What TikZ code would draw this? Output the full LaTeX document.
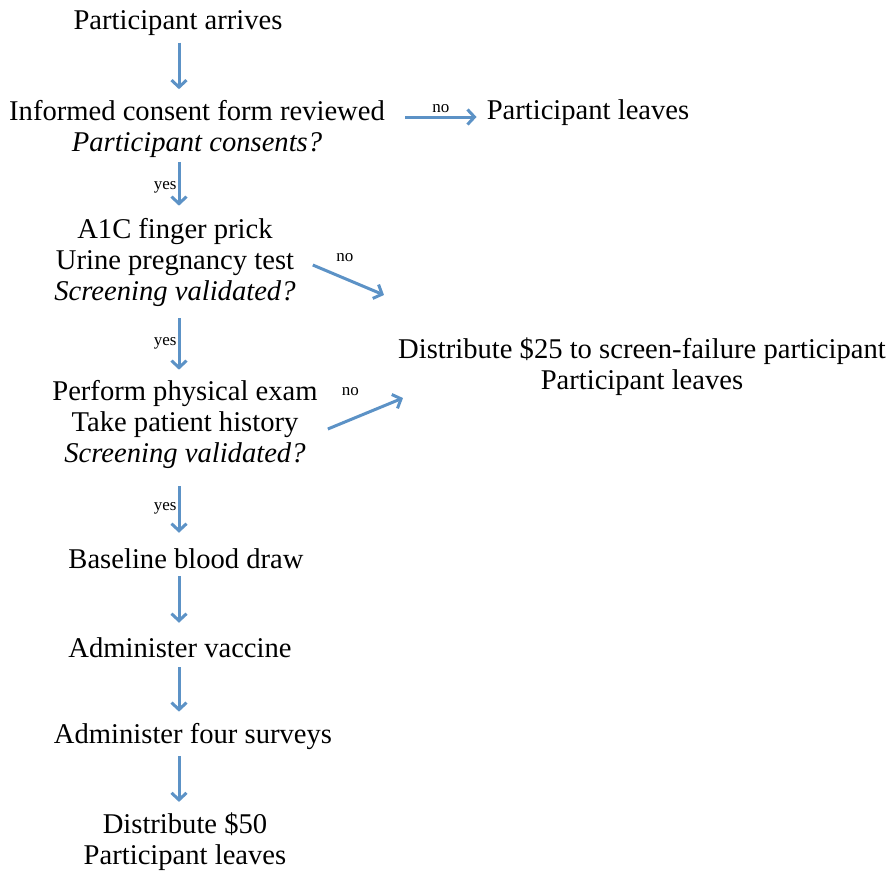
\documentclass[tikz,border=0pt]{standalone}
\usepackage{fontspec}
\setmainfont{Liberation Serif}
\usetikzlibrary{arrows.meta}
\definecolor{flowblue}{RGB}{92,146,198}

\begin{document}
\begin{tikzpicture}[
    x=1pt, y=-1pt,
    stepbox/.style={font=\fontsize{28.6}{31}\selectfont, align=center, inner sep=0pt},
    flow/.style={-{Straight Barb[length=7pt, width=15pt]}, line width=3pt, flowblue},
    anslbl/.style={font=\fontsize{17}{19}\selectfont, inner sep=1pt, text=black},
]
\useasboundingbox (0,0) rectangle (889,871);

% --- Main column ---
\coordinate (spine) at (179,0);
\node[stepbox] (arrive)  at (178,23)  {Participant arrives};
\node[stepbox] (consent) at (197,129) {Informed consent form reviewed\\ \textit{Participant consents?}};
\node[stepbox] (screen1) at (175,262) {A1C finger prick\\ Urine pregnancy test\\ \textit{Screening validated?}};
\node[stepbox] (screen2) at (185,424) {Perform physical exam\\ Take patient history\\ \textit{Screening validated?}};
\node[stepbox] (blood)   at (186,559) {Baseline blood draw};
\node[stepbox] (vaccine) at (180,648) {Administer vaccine};
\node[stepbox] (surveys) at (193,737) {Administer four surveys};
\node[stepbox] (pay)     at (185,842) {Distribute \$50\\ Participant leaves};

% --- Exits ---
\node[stepbox] (leave) at (588,113) {Participant leaves};
\node[stepbox] (fail)  at (642,367) {Distribute \$25 to screen-failure participant\\ Participant leaves};

% --- Arrows down the spine ---
\draw[flow, shorten <=7pt, shorten >=11pt] (arrive.south -| spine) -- (consent.north -| spine);
\draw[flow, shorten <=4pt, shorten >=12pt] (consent.south -| spine) -- (screen1.north -| spine)
    node[anslbl, midway, left] {yes};
\draw[flow, shorten <=12pt, shorten >=10pt] (screen1.south -| spine) -- (screen2.north -| spine)
    node[anslbl, midway, left] {yes};
\draw[flow, shorten <=18pt, shorten >=16pt] (screen2.south -| spine) -- (blood.north -| spine)
    node[anslbl, midway, left] {yes};
\draw[flow, shorten <=7pt, shorten >=15pt] (blood.south -| spine) -- (vaccine.north -| spine);
\draw[flow, shorten <=9pt, shorten >=12pt] (vaccine.south -| spine) -- (surveys.north -| spine);
\draw[flow, shorten <=6pt, shorten >=11pt] (surveys.south -| spine) -- (pay.north -| spine);

% --- "no" branches ---
\draw[flow] ([shift={(20,-12)}]consent.east) -- ([shift={(-10,4)}]leave.west)
    node[anslbl, midway, above=2pt] {no};
\draw[flow] ([shift={(17,3)}]screen1.east) -- ([shift={(-14,-72)}]fail.west)
    node[anslbl, pos=0.45, above=14pt] {no};
\draw[flow] ([shift={(10,5)}]screen2.east) -- ([shift={(5,31)}]fail.west)
    node[anslbl, pos=0.3, above=22pt] {no};

\end{tikzpicture}
\end{document}
